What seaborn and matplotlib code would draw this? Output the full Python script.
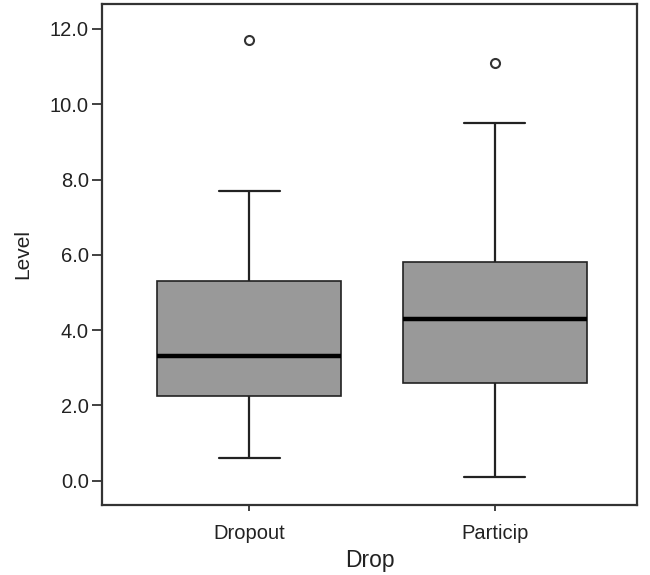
import matplotlib
matplotlib.use("Agg")
import matplotlib.pyplot as plt
import seaborn as sns
import pandas as pd

# Values (five-number summaries + outliers)
groups = ["Dropout", "Particip"]
whisker_low = [0.6, 0.1]
q1 = [2.25, 2.6]
median = [3.3, 4.3]
q3 = [5.3, 5.8]
whisker_high = [7.7, 9.5]
outliers = [11.7, 11.1]
y_ticks = [0.0, 2.0, 4.0, 6.0, 8.0, 10.0, 12.0]

# Build a sample per group whose quartiles/whiskers reproduce the summary
rows = []
for g, lo, a, m, b, hi, o in zip(groups, whisker_low, q1, median, q3, whisker_high, outliers):
    for v in [lo, a, a, m, m, b, b, hi, o]:
        rows.append({"Drop": g, "Level": v})
df = pd.DataFrame(rows)

sns.set_style("white")
plt.rcParams["font.family"] = ["Liberation Sans", "DejaVu Sans"]

fig = plt.figure(figsize=(6.5, 5.75), dpi=100)
ax = fig.add_axes([0.157, 0.122, 0.823, 0.871])

sns.boxplot(
    data=df, x="Drop", y="Level", ax=ax, order=groups,
    width=0.75, whis=1.5, color="#999999", saturation=1,
    capwidths=0.25,
    boxprops=dict(facecolor="#999999", edgecolor="#222222", linewidth=1.2),
    medianprops=dict(color="black", linewidth=3.2),
    whiskerprops=dict(color="#222222", linewidth=1.6),
    capprops=dict(color="#222222", linewidth=1.6),
    flierprops=dict(marker="o", markersize=6.5, markerfacecolor="white",
                    markeredgecolor="#333333", markeredgewidth=1.5),
)

ax.set_xlim(-0.6, 1.58)
ax.set_ylim(-0.64, 12.66)
ax.set_yticks(y_ticks)
ax.set_yticklabels([f"{t:.1f}" for t in y_ticks], fontsize=14.5, color="#222222")
ax.set_xticks([0, 1])
ax.set_xticklabels(groups, fontsize=14.5, color="#222222")
ax.set_xlabel("Drop", fontsize=16.5, color="#222222", labelpad=4)
ax.set_ylabel("Level", fontsize=15, color="#222222", labelpad=13)

for s in ax.spines.values():
    s.set_visible(True)
    s.set_color("#333333")
    s.set_linewidth(1.6)
ax.tick_params(axis="both", which="major", direction="out", width=1.3,
               color="#333333", left=True, bottom=True)
ax.tick_params(axis="y", length=7.5, pad=2)
ax.tick_params(axis="x", length=4.5, pad=9.5)

fig.savefig("out.png", dpi=100)
